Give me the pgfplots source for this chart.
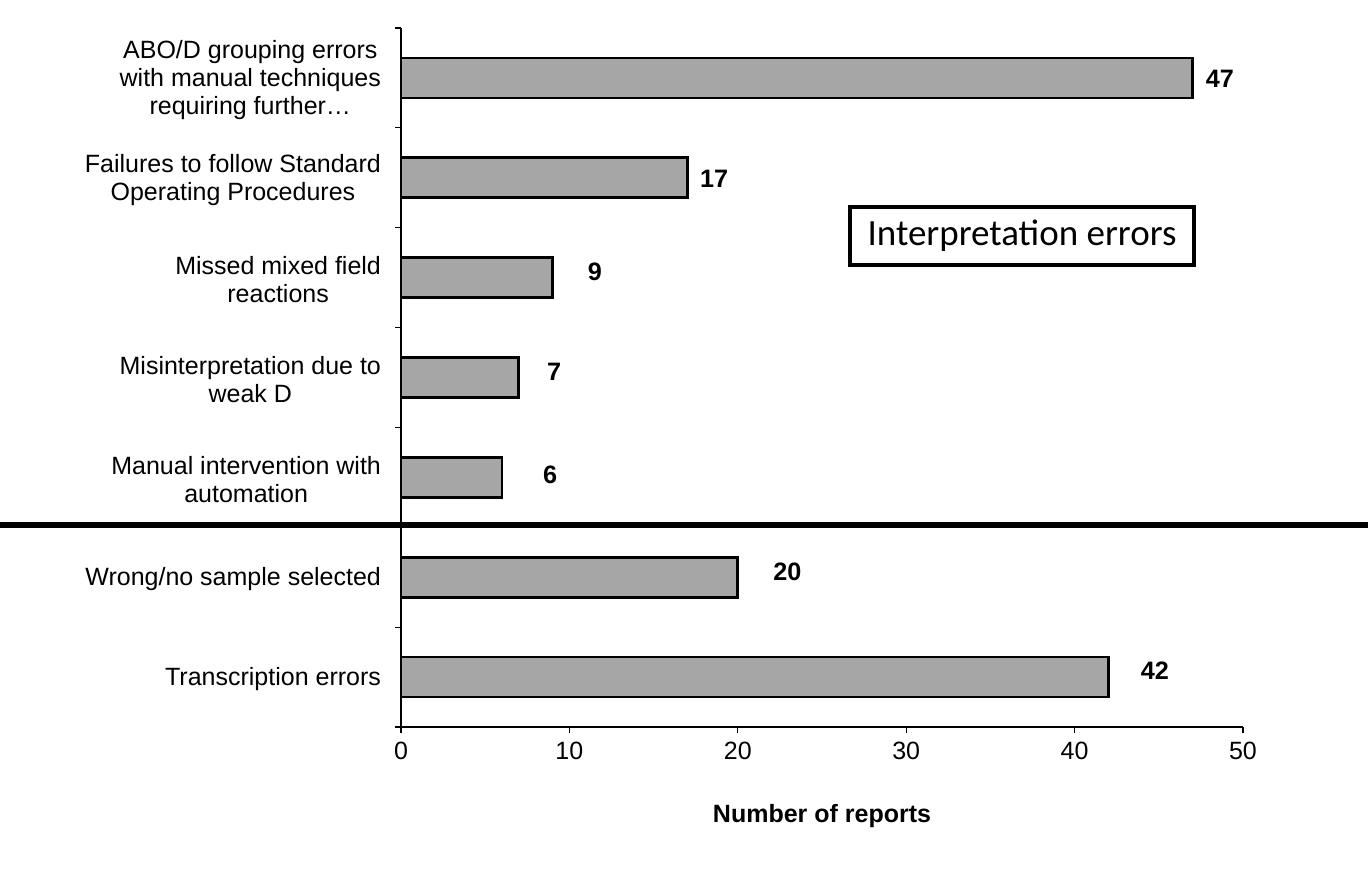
\documentclass[border=0pt]{standalone}
\usepackage{pgfplots}
\pgfplotsset{compat=1.18}
\usepackage{pgfplotstable}
\usepackage{fontspec}
\setmainfont{Liberation Sans}
\newfontfamily\carlito{Carlito}
\definecolor{bargray}{HTML}{A6A6A6}

\pgfplotstableread{
y x
0 42
1 20
2 6
3 7
4 9
5 17
6 47
}\bardata

\pgfplotstableread{
lx ly lab
44.77 0.06 42
22.95 1.05 20
8.85 2.03 6
9.09 3.06 7
11.52 4.06 9
18.59 4.99 17
48.63 5.995 47
}\labdata

\begin{document}
\begin{tikzpicture}
\useasboundingbox (-200.5pt,-79pt) rectangle (485.5pt,363.5pt);
\begin{axis}[
  scale only axis,
  width=421pt, height=349.5pt,
  xmin=0, xmax=50, ymin=-0.5, ymax=6.5,
  axis lines=left,
  axis line style={-, line width=0.8pt},
  xtick={0,10,...,50},
  ytick={0,1,2,3,4,5,6},
  yticklabels={{Transcription errors},{Wrong/no sample selected},{Manual intervention with\\automation},{Misinterpretation due to\\weak D},{Missed mixed field\\reactions},{Failures to follow Standard\\Operating Procedures},{ABO/D grouping errors\\with manual techniques\\requiring further…}},
  minor ytick={-0.5,0.5,1.5,2.5,3.5,4.5,5.5,6.5},
  every major y tick/.append style={draw opacity=0},
  tick align=outside,
  major tick length=3pt, minor tick length=3pt,
  tick style={black, line width=0.6pt},
  /pgf/number format/assume math mode=true,
  xticklabel style={font=\fontsize{12.5}{15}\selectfont, yshift=-1pt},
  yticklabel style={font=\fontsize{12.5}{14.1}\selectfont, align=center, xshift=-3.5pt, yshift=-1pt},
  xlabel={Number of reports},
  xlabel style={at={(axis description cs:0.5,0)}, anchor=center, yshift=-44.5pt, font=\bfseries\fontsize{12.5}{15}\selectfont},
  bar width=20pt,
  clip=false,
]
\addplot[xbar, fill=bargray, draw=black, line width=1.4pt] table[x=x,y=y] {\bardata};
\addplot[draw=none, mark=none, nodes near coords, point meta=explicit symbolic,
  nodes near coords align=center,
  every node near coord/.append style={font=\bfseries\fontsize{12.6}{14}\selectfont, anchor=center}]
  table[x=lx,y=ly,meta=lab] {\labdata};
\draw[line width=3pt] (axis cs:-23.81,1.52) -- (axis cs:57.42,1.52);
\node[draw, line width=2pt, minimum width=172pt, minimum height=29pt, inner sep=0pt,
  font=\carlito\fontsize{18.5}{22}\selectfont] at (axis cs:36.88,4.42) {Interpretation errors};
\end{axis}
\end{tikzpicture}
\end{document}
